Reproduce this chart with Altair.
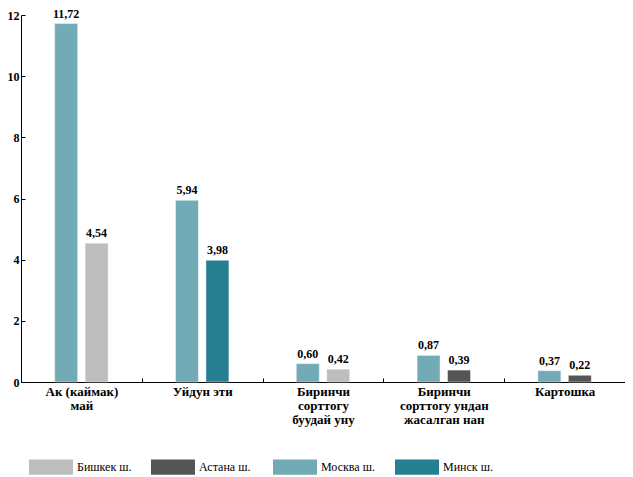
import altair as alt
import pandas as pd

categories = ["Ак (каймак)|май", "Уйдун эти", "Биринчи|сорттогу|буудай уну",
              "Биринчи|сорттогу ундан|жасалган нан", "Картошка"]
moscow_values = [11.72, 5.94, 0.60, 0.87, 0.37]
second_cities = ["Бишкек ш.", "Минск ш.", "Бишкек ш.", "Астана ш.", "Астана ш."]
second_values = [4.54, 3.98, 0.42, 0.39, 0.22]
legend_order = ["Бишкек ш.", "Астана ш.", "Москва ш.", "Минск ш."]
legend_colors = ["#bdbdbd", "#555555", "#72aab6", "#267f91"]
y_ticks = [0, 2, 4, 6, 8, 10, 12]

rows = []
for i, c in enumerate(categories):
    rows.append({"cat": c, "slot": 0, "city": "Москва ш.", "value": moscow_values[i]})
    rows.append({"cat": c, "slot": 1, "city": second_cities[i], "value": second_values[i]})
df = pd.DataFrame(rows)
df["label"] = df["value"].map(lambda v: f"{v:.2f}".replace(".", ","))

FONT = "Times New Roman, Liberation Serif, Tinos, DejaVu Serif, serif"

x = alt.X("cat:N", sort=categories, scale=alt.Scale(paddingInner=0, paddingOuter=0),
          axis=alt.Axis(title=None, labelAngle=0, labelExpr="split(datum.label, '|')",
                        tickBand="extent", tickSize={"expr": "-4"}, tickColor="black",
                        domainColor="black", labelFont=FONT, labelFontSize=13,
                        labelFontWeight="bold", labelColor="black", labelPadding=7,
                        labelLineHeight=14, labelBaseline="top"))
xo = alt.XOffset("slot:O", scale=alt.Scale(paddingInner=0, paddingOuter=0.984))
y = alt.Y("value:Q", scale=alt.Scale(domain=[0, 12], nice=False),
          axis=alt.Axis(title=None, values=y_ticks, grid=False, tickSize={"expr": "-4"},
                        tickColor="black", domainColor="black", labelFont=FONT,
                        labelFontSize=12, labelFontWeight="bold", labelColor="black",
                        labelPadding=6))

bars = alt.Chart(df).mark_bar(width=23, stroke="white", strokeWidth=1, strokeOpacity=0.45).encode(
    x=x, xOffset=xo, y=y,
    color=alt.Color("city:N", scale=alt.Scale(domain=legend_order, range=legend_colors),
                    legend=alt.Legend(title=None, orient="none", legendX=8, legendY=441,
                                      direction="horizontal", columns=4, gridAlign="all",
                                      columnPadding=19, padding=0,
                                      symbolType="M-1,-0.7H3V0.7H-1Z",
                                      symbolSize=484, symbolStrokeWidth=0, labelOffset=26,
                                      labelFont=FONT, labelFontSize=12, labelColor="black",
                                      symbolOpacity=1)),
)
texts = alt.Chart(df).mark_text(baseline="bottom", dy=-3, font=FONT, fontSize=12,
                                fontWeight="bold", color="black").encode(
    x=x, xOffset=xo, y=y, text="label:N")

chart = alt.layer(bars, texts).properties(
    width=604, height=367,
    autosize=alt.AutoSizeParams(type="none"),
    padding={"left": 13, "top": 7, "right": 0, "bottom": 94},
).configure_view(stroke=None)

chart.save("out.html", embed_options={"renderer": "svg", "actions": False})
